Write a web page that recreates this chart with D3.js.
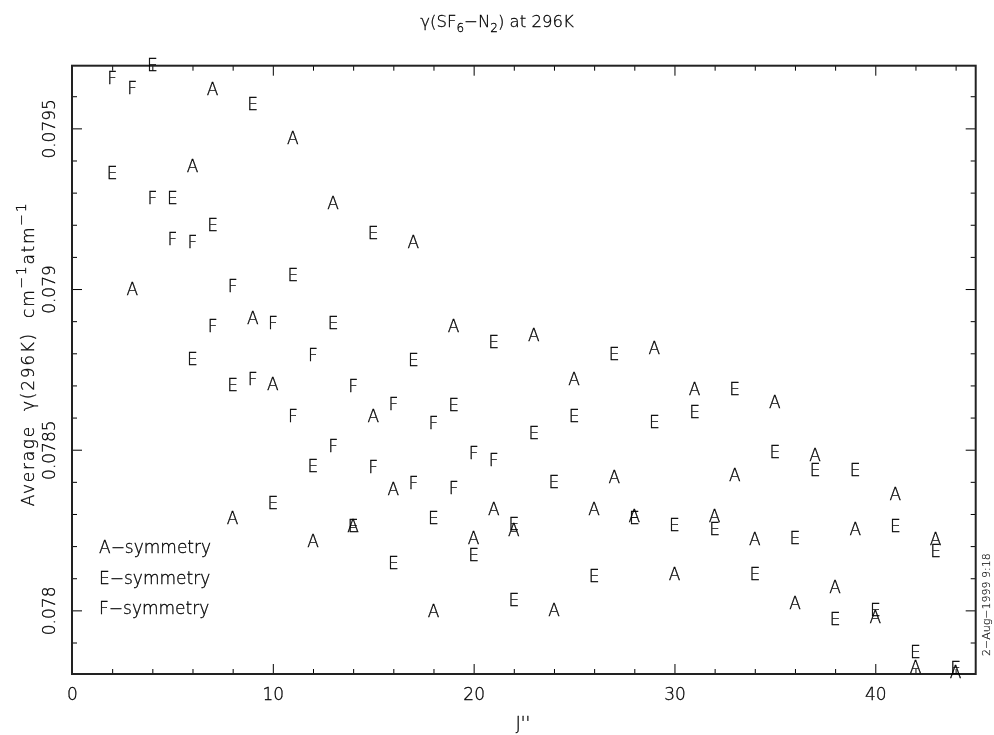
<!DOCTYPE html>
<html>
<head>
<meta charset="utf-8">
<script src="https://cdn.jsdelivr.net/npm/d3@7"></script>
<style>
  html, body { margin: 0; padding: 0; background: #fff; }
  #chart { will-change: transform; background: transparent; display: block; }
  svg text { font-family: "DejaVu Sans", "Liberation Sans", sans-serif; font-weight: 300; fill: #000; stroke: #000; stroke-width: 0.3px; }
</style>
</head>
<body>
<svg id="chart" width="994" height="735"></svg>
<script>
// ---- data ----
const aJ = [3,6,7,8,9,10,11,12,13,14,15,16,17,18,19,20,21,22,23,24,25,26,27,28,29,30,31,32,33,34,35,36,37,38,39,40,41,42,43,44];
const aGamma = [0.079002,0.079383,0.079624,0.078287,0.078909,0.078704,0.079469,0.078217,0.079267,0.078263,0.078605,0.078377,0.079147,0.077999,0.078885,0.078227,0.078315,0.078250,0.078857,0.078001,0.078719,0.078315,0.078416,0.078294,0.078816,0.078115,0.078688,0.078294,0.078421,0.078221,0.078649,0.078024,0.078484,0.078072,0.078255,0.077980,0.078361,0.077825,0.078221,0.077809];

const eJ = [2,4,5,6,7,8,9,10,11,12,13,14,15,16,17,18,19,20,21,22,22,23,24,25,26,27,28,29,30,31,32,33,34,35,36,37,38,39,40,41,42,43,44];
const eGamma = [0.079360,0.079697,0.079284,0.078784,0.079199,0.078701,0.079576,0.078335,0.079044,0.078449,0.078895,0.078263,0.079175,0.078147,0.078779,0.078287,0.078639,0.078172,0.078836,0.078269,0.078032,0.078553,0.078400,0.078605,0.078107,0.078798,0.078288,0.078587,0.078266,0.078618,0.078255,0.078688,0.078115,0.078492,0.078227,0.078437,0.077972,0.078437,0.078001,0.078263,0.077872,0.078186,0.077820];

const fJ = [2,3,4,5,6,7,8,9,10,11,12,13,14,15,16,17,18,19,20,21];
const fGamma = [0.079656,0.079626,0.079284,0.079155,0.079147,0.078885,0.079009,0.078719,0.078895,0.078605,0.078795,0.078512,0.078700,0.078447,0.078644,0.078397,0.078582,0.078380,0.078491,0.078468];

const seriesSymbols = ["A", "E", "F"];
const legendLabels = ["A\u2212symmetry", "E\u2212symmetry", "F\u2212symmetry"];

const xMajorTicks = [0, 10, 20, 30, 40];
const yMajorTicks = [0.078, 0.0785, 0.079, 0.0795];
const yMajorLabels = ["0.078", "0.0785", "0.079", "0.0795"];

// ---- layout ----
const svg = d3.select("#chart");
const L = 72, R = 975.7, T = 65.7, B = 674;
const x = d3.scaleLinear().domain([0, 45]).range([L, R]);
const y = d3.scaleLinear().domain([0.077802, 0.079695]).range([B, T]);

const xMinorTicks = d3.range(0, 45.01, 2).filter(v => v % 10 !== 0);
const yMinorTicks = d3.range(0, 19).map(i => +(0.0778 + i * 0.0001).toFixed(4))
  .filter(v => !yMajorTicks.some(m => Math.abs(m - v) < 1e-9) && v >= 0.077802 && v <= 0.079695);

const MAJ = 10, MIN = 5;
function styleAxis(g) {
  g.select(".domain").remove();
  g.selectAll(".tick line").attr("stroke", "#000").attr("stroke-width", 1);
}
// bottom
svg.append("g").attr("transform", `translate(0,${B})`)
  .call(d3.axisBottom(x).tickValues(xMinorTicks).tickSize(-MIN).tickFormat(""))
  .call(styleAxis);
svg.append("g").attr("transform", `translate(0,${B})`)
  .call(d3.axisBottom(x).tickValues(xMajorTicks).tickSize(-MAJ).tickPadding(12).tickFormat(d3.format("d")))
  .call(styleAxis)
  .call(g => g.selectAll(".tick text").attr("font-size", 17).attr("font-family", "DejaVu Sans").attr("fill", "#000").attr("dy", "0.8em"));
// top
svg.append("g").attr("transform", `translate(0,${T})`)
  .call(d3.axisTop(x).tickValues(xMinorTicks).tickSize(-MIN).tickFormat(""))
  .call(styleAxis);
svg.append("g").attr("transform", `translate(0,${T})`)
  .call(d3.axisTop(x).tickValues(xMajorTicks).tickSize(-MAJ).tickFormat(""))
  .call(styleAxis);
// left
svg.append("g").attr("transform", `translate(${L},0)`)
  .call(d3.axisLeft(y).tickValues(yMinorTicks).tickSize(-MIN).tickFormat(""))
  .call(styleAxis);
const leftMajor = svg.append("g").attr("transform", `translate(${L},0)`)
  .call(d3.axisLeft(y).tickValues(yMajorTicks).tickSize(-MAJ).tickFormat(""))
  .call(styleAxis);
leftMajor.selectAll(".tick").append("text")
  .attr("transform", "translate(-17,0) rotate(-90)")
  .attr("text-anchor", "middle")
  .attr("font-size", 17)
  .text((d, i) => yMajorLabels[i]);
// right
svg.append("g").attr("transform", `translate(${R},0)`)
  .call(d3.axisRight(y).tickValues(yMinorTicks).tickSize(-MIN).tickFormat(""))
  .call(styleAxis);
svg.append("g").attr("transform", `translate(${R},0)`)
  .call(d3.axisRight(y).tickValues(yMajorTicks).tickSize(-MAJ).tickFormat(""))
  .call(styleAxis);

// frame
svg.append("rect").attr("x", L).attr("y", T).attr("width", R - L).attr("height", B - T)
  .attr("fill", "none").attr("stroke", "#222").attr("stroke-width", 2);

// ---- markers ----
const series = [
  { sym: seriesSymbols[0], J: aJ, g: aGamma },
  { sym: seriesSymbols[1], J: eJ, g: eGamma },
  { sym: seriesSymbols[2], J: fJ, g: fGamma }
];
series.forEach(s => {
  svg.append("g").selectAll("text")
    .data(s.J.map((j, i) => [j, s.g[i]]))
    .join("text")
    .attr("x", d => x(d[0]))
    .attr("y", d => y(d[1]))
    .attr("dy", "0.36em")
    .attr("text-anchor", "middle")
    .attr("font-size", 17)
    .text(s.sym);
});

// ---- legend ----
svg.append("g").selectAll("text").data(legendLabels).join("text")
  .attr("x", 99)
  .attr("y", (d, i) => 553 + i * 30.5)
  .attr("font-size", 17)
  .text(d => d);

// ---- titles ----
const title = svg.append("text").attr("x", 497).attr("y", 27).attr("text-anchor", "middle").attr("font-size", 16.5);
title.append("tspan").text("\u03B3(SF");
title.append("tspan").attr("font-size", 12).attr("dy", 5).text("6");
title.append("tspan").attr("dy", -5).text("\u2212N");
title.append("tspan").attr("font-size", 12).attr("dy", 5).text("2");
title.append("tspan").attr("dy", -5).text(") at 296K");

svg.append("text").attr("x", 523).attr("y", 729).attr("text-anchor", "middle").attr("font-size", 17).text("J''");

const yl = svg.append("text").attr("transform", "translate(34,354) rotate(-90)")
  .attr("text-anchor", "middle").attr("font-size", 17).attr("letter-spacing", 1.7).attr("xml:space", "preserve");
yl.append("tspan").text("Average  \u03B3(296K)  cm");
yl.append("tspan").attr("font-size", 14).attr("dy", -8).text("\u22121");
yl.append("tspan").attr("dy", 8).text("atm");
yl.append("tspan").attr("font-size", 14).attr("dy", -8).text("\u22121");

svg.append("text").attr("transform", "translate(990,656) rotate(-90)").attr("font-size", 11).style("stroke-width", "0.15px").text("2\u2212Aug\u22121999  9:18");
</script>
</body>
</html>
